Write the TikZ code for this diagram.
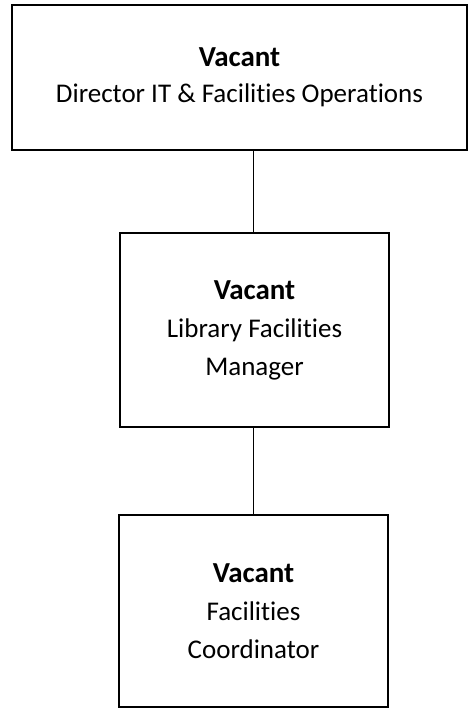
\documentclass[tikz,border=0pt]{standalone}
\usepackage{fontspec}
\setmainfont{Carlito}[Ligatures={NoCommon}]
\newcommand{\vac}{{\fontsize{29}{38}\selectfont\textbf{Vacant}}}
\begin{document}
\begin{tikzpicture}[x=1pt,y=-1pt,
  box/.style={draw=black,line width=1.8pt,fill=white,inner sep=0pt,align=center,
    font=\fontsize{27}{38}\selectfont},
  link/.style={draw=black,line width=1pt}]
\useasboundingbox (0,0) rectangle (470,709);
\node[box,minimum width=455pt,minimum height=145pt] (top) at (239.5,77.5)
  {\vac\\[-2pt]Director IT \& Facilities Operations};
\node[box,minimum width=269pt,minimum height=194pt] (mid) at (254.5,330)
  {\vac\\Library Facilities\\Manager};
\node[box,minimum width=269pt,minimum height=192pt] (bot) at (253.5,611)
  {\vac\\Facilities\\Coordinator};
\draw[link] ([xshift=-1.5pt]mid.north) -- ([xshift=-1.5pt]mid.north |- top.south);
\draw[link] ([xshift=-1.5pt]mid.south) -- ([xshift=-1.5pt]mid.south |- bot.north);
\end{tikzpicture}
\end{document}
